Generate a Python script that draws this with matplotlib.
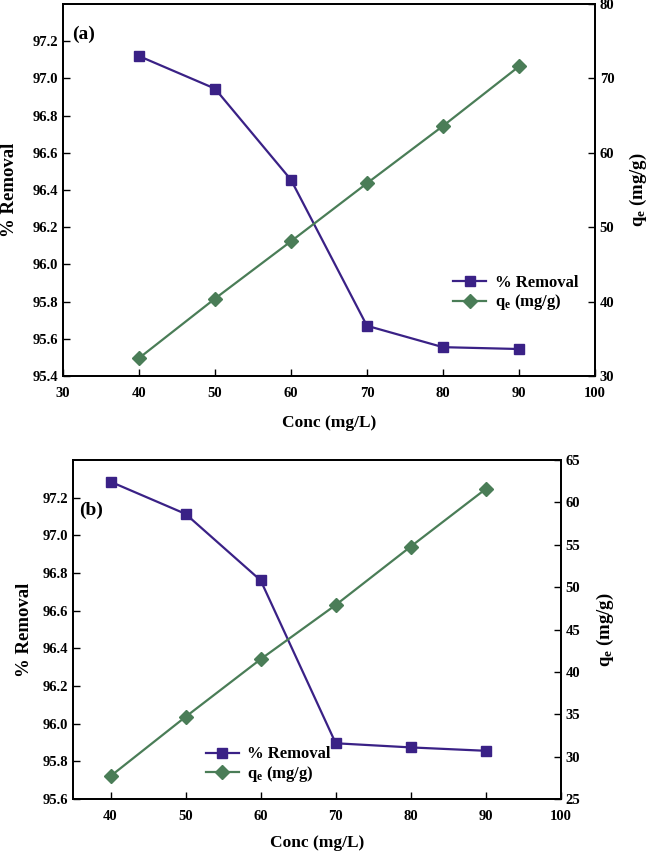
import numpy as np
import matplotlib
matplotlib.use('Agg')
import matplotlib.pyplot as plt

plt.rcParams['font.family'] = ['Liberation Serif', 'DejaVu Serif']
plt.rcParams['font.weight'] = 'bold'
plt.rcParams['mathtext.fontset'] = 'custom'
plt.rcParams['mathtext.rm'] = 'Liberation Serif:bold'
plt.rcParams['mathtext.it'] = 'Liberation Serif:bold'
plt.rcParams['mathtext.bf'] = 'Liberation Serif:bold'

# data
conc = [40, 50, 60, 70, 80, 90]
removal_a = [97.12, 96.945, 96.455, 95.67, 95.555, 95.545]
qe_a = [32.4, 40.4, 48.1, 55.9, 63.6, 71.6]
removal_b = [97.285, 97.114, 96.761, 95.896, 95.874, 95.856]
qe_b = [27.7, 34.7, 41.5, 47.9, 54.8, 61.6]

PURPLE = '#3a2186'
GREEN = '#4a7d57'


def draw_panel(ax, removal, qe, xlim, xticks, ylim1, yticks1, ylim2, yticks2, tag, tagpos, legloc):
    ax.plot(conc, removal, '-s', color=PURPLE, lw=1.6, ms=7.5, label='% Removal')
    ax2 = ax.twinx()
    ax2.plot(conc, qe, '-D', color=GREEN, lw=1.6, ms=7.5, label=r'q$_\mathrm{e}$ (mg/g)')

    ax.set_xlim(*xlim)
    ax.set_xticks(xticks)
    ax.set_ylim(*ylim1)
    ax.set_yticks(yticks1)
    ax.set_yticklabels([f'{v:.1f}' for v in yticks1])
    ax2.set_ylim(*ylim2)
    ax2.set_yticks(yticks2)

    for a in (ax, ax2):
        a.tick_params(direction='in', labelsize=10.5, width=1, length=5)
        for sp in a.spines.values():
            sp.set_linewidth(1.3)
    ax.tick_params(axis='x', pad=8)

    ax.set_xlabel('Conc (mg/L)', fontsize=12.5, fontweight='bold')
    ax.set_ylabel('% Removal', fontsize=13.5, fontweight='bold')
    ax2.set_ylabel(r'q$_\mathrm{e}$ (mg/g)', fontsize=13.5, fontweight='bold', labelpad=10)
    ax.text(tagpos[0], tagpos[1], tag, transform=ax.transAxes, fontsize=14, fontweight='bold')

    h1, l1 = ax.get_legend_handles_labels()
    h2, l2 = ax2.get_legend_handles_labels()
    ax2.legend(h1 + h2, l1 + l2, frameon=False, fontsize=12, bbox_to_anchor=legloc,
               loc='upper left', handlelength=2.0, handletextpad=0.5, labelspacing=0.1,
               borderpad=0, borderaxespad=0)
    return ax2


fig = plt.figure(figsize=(6.53, 8.52), dpi=100)
ax_a = fig.add_axes([0.0965, 0.5587, 0.8145, 0.4366])
ax_b = fig.add_axes([0.1118, 0.0622, 0.7472, 0.3978])

draw_panel(ax_a, removal_a, qe_a, (30, 100), range(30, 101, 10),
           (95.4, 97.4), np.arange(95.4, 97.21, 0.2), (30, 80), range(30, 81, 10),
           '(a)', (0.017, 0.905), (0.733, 0.272))
draw_panel(ax_b, removal_b, qe_b, (35, 100), range(40, 101, 10),
           (95.6, 97.4), np.arange(95.6, 97.21, 0.2), (25, 65), range(25, 66, 5),
           '(b)', (0.012, 0.838), (0.272, 0.155))

ax_a.yaxis.set_label_coords(-0.085, 0.5)
ax_b.yaxis.set_label_coords(-0.082, 0.5)
ax_a.xaxis.set_label_coords(0.5, -0.106)
ax_b.xaxis.set_label_coords(0.5, -0.107)

fig.savefig('out.png', dpi=100)
